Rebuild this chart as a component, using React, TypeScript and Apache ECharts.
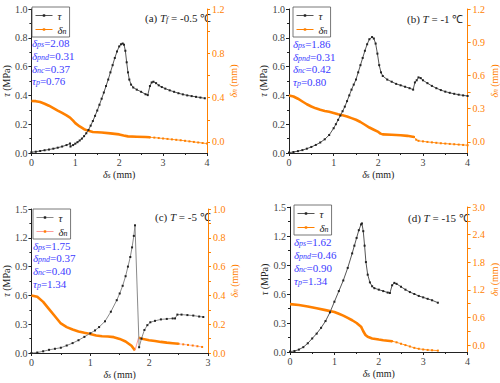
import React, { useEffect, useRef } from 'react';
import * as echarts from 'echarts';

const SERIF = 'serif';
const ORANGE = '#ff8000';
const BLUE = '#3c3cff';
const DARK = '#222222';

// ---------- Panel (a) Tf = -0.5 ℃ ----------
const aTau = [[0,0.005],[0.1,0.009],[0.2,0.014],[0.3,0.019],[0.4,0.024],[0.5,0.03],[0.6,0.037],[0.7,0.045],[0.8,0.055],[0.88,0.066],[0.89,0.045],[0.95,0.055],[1.0,0.065],[1.05,0.075],[1.1,0.087],[1.15,0.1],[1.2,0.117],[1.25,0.137],[1.3,0.16],[1.35,0.19],[1.4,0.222],[1.45,0.258],[1.5,0.295],[1.55,0.335],[1.6,0.377],[1.65,0.42],[1.7,0.465],[1.75,0.51],[1.8,0.56],[1.85,0.61],[1.9,0.66],[1.95,0.705],[2.0,0.74],[2.04,0.755],[2.08,0.76],[2.11,0.752],[2.14,0.71],[2.17,0.63],[2.2,0.56],[2.23,0.51],[2.27,0.475],[2.32,0.455],[2.4,0.44],[2.5,0.425],[2.6,0.408],[2.65,0.402],[2.7,0.465],[2.74,0.49],[2.78,0.495],[2.84,0.485],[2.9,0.47],[2.97,0.458],[3.05,0.447],[3.15,0.435],[3.25,0.425],[3.35,0.415],[3.45,0.407],[3.55,0.4],[3.65,0.395],[3.75,0.39],[3.85,0.385],[3.95,0.38]];
const aDn = [[0,0.37],[0.1,0.368],[0.2,0.36],[0.3,0.345],[0.4,0.327],[0.5,0.305],[0.6,0.283],[0.7,0.262],[0.8,0.24],[0.88,0.22],[0.95,0.192],[1.0,0.17],[1.1,0.14],[1.2,0.115],[1.3,0.1],[1.4,0.09],[1.6,0.085],[1.8,0.077],[2.0,0.068],[2.1,0.058],[2.2,0.05],[2.4,0.047],[2.6,0.044],[2.7,0.042]];
const aDnTail = [[2.7,0.042],[2.8,0.039],[2.9,0.035],[3.0,0.031],[3.1,0.027],[3.2,0.023],[3.3,0.019],[3.4,0.015],[3.5,0.01],[3.6,0.005],[3.7,0.0],[3.8,-0.005],[3.9,-0.01],[4.0,-0.015]];
const aParams = ['2.08', '0.31', '0.37', '0.76'];

// ---------- Panel (b) T = -1 ℃ ----------
const bTau = [[0,0.003],[0.1,0.007],[0.2,0.013],[0.3,0.02],[0.4,0.03],[0.5,0.042],[0.6,0.056],[0.7,0.073],[0.8,0.095],[0.9,0.125],[1.0,0.172],[1.05,0.2],[1.1,0.23],[1.15,0.26],[1.2,0.29],[1.25,0.322],[1.3,0.36],[1.35,0.4],[1.4,0.44],[1.45,0.475],[1.5,0.51],[1.55,0.56],[1.6,0.61],[1.65,0.66],[1.7,0.71],[1.75,0.755],[1.8,0.79],[1.86,0.805],[1.9,0.795],[1.94,0.76],[1.98,0.69],[2.02,0.61],[2.06,0.56],[2.1,0.535],[2.2,0.51],[2.3,0.495],[2.4,0.48],[2.5,0.47],[2.6,0.46],[2.7,0.45],[2.78,0.44],[2.82,0.49],[2.86,0.505],[2.9,0.525],[2.95,0.52],[3.0,0.505],[3.1,0.485],[3.2,0.466],[3.3,0.45],[3.4,0.437],[3.5,0.426],[3.6,0.418],[3.7,0.411],[3.8,0.405],[3.9,0.4],[4.0,0.396]];
const bDn = [[0,0.42],[0.1,0.41],[0.2,0.39],[0.3,0.365],[0.4,0.34],[0.5,0.32],[0.6,0.303],[0.7,0.29],[0.8,0.28],[0.9,0.272],[1.0,0.262],[1.1,0.25],[1.2,0.24],[1.3,0.23],[1.4,0.215],[1.5,0.2],[1.6,0.18],[1.7,0.155],[1.8,0.13],[1.9,0.11],[2.0,0.09],[2.05,0.075],[2.1,0.068],[2.3,0.065],[2.5,0.06],[2.65,0.055],[2.8,0.045]];
const bDnTail = [[2.8,0.045],[2.85,0.02],[2.9,0.01],[3.0,0.005],[3.1,0.0],[3.2,-0.004],[3.3,-0.008],[3.4,-0.012],[3.5,-0.015],[3.6,-0.018],[3.7,-0.021],[3.8,-0.024],[3.9,-0.027],[4.0,-0.03]];
const bParams = ['1.86', '0.31', '0.42', '0.80'];

// ---------- Panel (c) T = -5 ℃ ----------
const cTau = [[0,0],[0.1,0.005],[0.2,0.018],[0.3,0.033],[0.4,0.044],[0.5,0.055],[0.6,0.078],[0.7,0.103],[0.8,0.133],[0.9,0.168],[1.0,0.205],[1.08,0.235],[1.15,0.27],[1.25,0.33],[1.35,0.43],[1.45,0.55],[1.5,0.62],[1.55,0.7],[1.6,0.8],[1.64,0.9],[1.68,1.0],[1.71,1.1],[1.74,1.22],[1.76,1.33],[1.83,0.06],[1.87,0.15],[1.92,0.24],[1.97,0.29],[2.02,0.32],[2.1,0.335],[2.2,0.35],[2.3,0.355],[2.4,0.36],[2.44,0.36],[2.48,0.4],[2.55,0.4],[2.65,0.395],[2.75,0.39],[2.85,0.38],[2.92,0.375]];
const cDn1 = [[0,0.4],[0.1,0.39],[0.2,0.355],[0.3,0.305],[0.4,0.255],[0.5,0.205],[0.6,0.18],[0.7,0.163],[0.8,0.15],[0.9,0.14],[1.0,0.132],[1.1,0.122],[1.2,0.116],[1.3,0.115],[1.4,0.11],[1.5,0.098],[1.6,0.08],[1.7,0.05],[1.76,0.018]];
const cDn2 = [[1.82,0.106],[1.9,0.097],[2.0,0.089],[2.1,0.083],[2.2,0.077],[2.3,0.072],[2.4,0.068],[2.5,0.064]];
const cDnTail = [[2.5,0.064],[2.58,0.06],[2.66,0.056],[2.74,0.052],[2.82,0.047],[2.9,0.042]];
const cParams = ['1.75', '0.37', '0.40', '1.34'];

// ---------- Panel (d) T = -15 ℃ ----------
const dTau = [[0,0.005],[0.1,0.01],[0.2,0.025],[0.3,0.05],[0.4,0.09],[0.5,0.14],[0.6,0.19],[0.7,0.25],[0.8,0.32],[0.9,0.41],[1.0,0.52],[1.1,0.63],[1.2,0.74],[1.3,0.87],[1.4,1.02],[1.45,1.1],[1.5,1.18],[1.55,1.26],[1.6,1.32],[1.62,1.33],[1.65,1.25],[1.68,1.1],[1.71,0.93],[1.75,0.8],[1.8,0.72],[1.85,0.68],[1.9,0.66],[2.0,0.645],[2.1,0.63],[2.2,0.615],[2.25,0.61],[2.3,0.69],[2.35,0.715],[2.4,0.705],[2.5,0.675],[2.6,0.645],[2.7,0.62],[2.8,0.6],[2.9,0.58],[3.0,0.565],[3.1,0.55],[3.2,0.535],[3.33,0.51]];
const dDn = [[0,0.89],[0.2,0.87],[0.4,0.84],[0.6,0.8],[0.8,0.76],[1.0,0.72],[1.1,0.68],[1.2,0.64],[1.3,0.59],[1.4,0.54],[1.5,0.48],[1.6,0.4],[1.65,0.3],[1.7,0.22],[1.75,0.18],[1.85,0.145],[2.0,0.12],[2.1,0.105],[2.2,0.095],[2.3,0.085]];
const dDnTail = [[2.3,0.085],[2.4,0.06],[2.5,0.03],[2.6,0.0],[2.7,-0.03],[2.8,-0.06],[2.9,-0.08],[3.0,-0.095],[3.1,-0.105],[3.2,-0.112],[3.33,-0.12]];
const dParams = ['1.62', '0.46', '0.90', '1.34'];

// ---------- Axes ----------
const xMax = [4, 4, 3, 4];
const leftMax = [1.0, 1.0, 1.5, 1.5];
const leftInterval = [0.2, 0.2, 0.3, 0.3];
const rightMin = [-0.1, -0.1, 0, -0.15];
const rightMax = [1.2, 1.2, 1.0, 3.0];
const rightLabels = [
  [0, 0.4, 0.8, 1.2],
  [0, 0.3, 0.6, 0.9, 1.2],
  [0, 0.2, 0.4, 0.6, 0.8, 1.0],
  [0, 0.6, 1.2, 1.8, 2.4, 3.0],
];
const rightTicks = [
  [0, 0.2, 0.4, 0.6, 0.8, 1.0, 1.2],
  [0, 0.15, 0.3, 0.45, 0.6, 0.75, 0.9, 1.05, 1.2],
  [0, 0.1, 0.2, 0.3, 0.4, 0.5, 0.6, 0.7, 0.8, 0.9, 1.0],
  [0, 0.3, 0.6, 0.9, 1.2, 1.5, 1.8, 2.1, 2.4, 2.7, 3.0],
];

const panelLetters = ['(a)', '(b)', '(c)', '(d)'];
const panelTemps = ['-0.5', '-1', '-5', '-15'];
const paramSubs = ['ps', 'pnd', 'nc', 'p'];

export default function App() {
  const ref = useRef<HTMLDivElement>(null);
  useEffect(() => {
    if (!ref.current) return;
    const chart = echarts.init(ref.current, null, { renderer: 'svg' });

    const grids = [
      { left: 27, top: 9, width: 180, height: 144 },
      { left: 289, top: 9, width: 179, height: 144 },
      { left: 28, top: 209, width: 180, height: 144 },
      { left: 290, top: 207, width: 178, height: 145 },
    ];
    const legendPos = [[32, 7], [293, 7], [33, 209], [294, 205]];
    const titlePos = [[145, 18], [407, 19], [155, 217], [408, 218]];
    const paramPos = [
      [32, [43, 56, 69, 81]],
      [293, [44, 57, 69, 82]],
      [33, [246, 258, 271, 284]],
      [294, [242, 255, 268, 281]],
    ] as [number, number[]][];
    const taus = [aTau, bTau, cTau, dTau];
    const params = [aParams, bParams, cParams, dParams];

    const tauLine = ['#555', '#555', '#8a8a8a', '#555'];
    const dnLine = [ORANGE, ORANGE, '#ff9a9a', ORANGE];

    const xAxis: any[] = [];
    const yAxis: any[] = [];
    const series: any[] = [];
    const legends: any[] = [];
    const graphics: any[] = [];

    const subRich = (color: string, size: number) => ({
      i: { fontStyle: 'italic', fontFamily: SERIF, fontSize: size, color, fill: color },
      s: { fontStyle: 'italic', fontFamily: SERIF, fontSize: size * 0.72, color, fill: color, verticalAlign: 'bottom', lineHeight: 5 },
      t: { fontFamily: SERIF, fontSize: size, color, fill: color },
    });

    for (let p = 0; p < 4; p++) {
      xAxis.push({
        type: 'value', gridIndex: p, min: 0, max: xMax[p], interval: 1,
        axisLine: { show: true, lineStyle: { color: DARK, width: 1 } },
        axisTick: { show: true, length: 3, lineStyle: { color: DARK } },
        minorTick: { show: true, splitNumber: 2, length: 2, lineStyle: { color: DARK } },
        splitLine: { show: false },
        axisLabel: { fontFamily: SERIF, fontSize: 10, color: '#444', margin: 4 },
        name: '{i|δ}{s|s}{t| (mm)}', nameLocation: 'middle', nameGap: 16,
        nameTextStyle: { fontFamily: SERIF, fontSize: 10, color: DARK, rich: subRich(DARK, 10) },
      });
      yAxis.push({
        type: 'value', gridIndex: p, min: 0, max: leftMax[p], interval: leftInterval[p],
        axisLine: { show: true, lineStyle: { color: DARK, width: 1 } },
        axisTick: { show: true, length: 3, lineStyle: { color: DARK } },
        minorTick: { show: true, splitNumber: 2, length: 2, lineStyle: { color: DARK } },
        splitLine: { show: false },
        axisLabel: { fontFamily: SERIF, fontSize: 10, color: '#444', margin: 4, formatter: (v: number) => v.toFixed(1) },
        name: '{i|τ}{t| (MPa)}', nameLocation: 'middle', nameRotate: 90, nameGap: 14,
        nameTextStyle: { fontFamily: SERIF, fontSize: 10, color: DARK, rich: subRich(DARK, 10) },
      });
      yAxis.push({
        type: 'value', gridIndex: p, position: 'right', min: rightMin[p], max: rightMax[p],
        axisLine: { show: true, onZero: false, lineStyle: { color: ORANGE, width: 1 } },
        axisTick: { show: true, length: 3, lineStyle: { color: ORANGE }, customValues: rightTicks[p] },
        splitLine: { show: false },
        axisLabel: { fontFamily: SERIF, fontSize: 10, color: ORANGE, margin: 5, customValues: rightLabels[p], formatter: (v: number) => v.toFixed(1) },
        name: '{i|δ}{s|n}{t| (mm)}', nameLocation: 'middle', nameRotate: 90, nameGap: 20,
        nameTextStyle: { fontFamily: SERIF, fontSize: 10, color: ORANGE, rich: subRich(ORANGE, 10) },
      });

      series.push({
        type: 'line', name: 'τ', xAxisIndex: p, yAxisIndex: 2 * p, data: taus[p],
        symbol: 'rect', symbolSize: 2, showSymbol: true,
        lineStyle: { width: 1, color: tauLine[p] }, itemStyle: { color: DARK }, z: 3,
      });

      const dense = p === 0 ? [aDn] : p === 1 ? [bDn] : p === 2 ? [cDn1, cDn2] : [dDn];
      const tail = [aDnTail, bDnTail, cDnTail, dDnTail][p];
      dense.forEach((d) => {
        series.push({
          type: 'line', name: 'δn', xAxisIndex: p, yAxisIndex: 2 * p + 1, data: d,
          symbol: 'rect', symbolSize: 2, showSymbol: false,
          lineStyle: { width: 2.6, color: ORANGE }, itemStyle: { color: ORANGE }, z: 2,
        });
      });
      if (p === 2) {
        series.push({
          type: 'line', name: 'δn', xAxisIndex: p, yAxisIndex: 2 * p + 1,
          data: [cDn1[cDn1.length - 1], cDn2[0]], showSymbol: false, symbol: 'rect',
          lineStyle: { width: 1, color: dnLine[p] }, z: 2,
        });
      }
      series.push({
        type: 'line', name: 'δn', xAxisIndex: p, yAxisIndex: 2 * p + 1, data: tail,
        symbol: 'rect', symbolSize: 2, showSymbol: true,
        lineStyle: { width: 0.8, color: dnLine[p] }, itemStyle: { color: ORANGE }, z: 2,
      });

      legends.push({
        left: legendPos[p][0], top: legendPos[p][1], orient: 'vertical',
        selectedMode: false, itemWidth: 17, itemHeight: 3, itemGap: 3,
        padding: [3, 3, 2, 3], borderColor: '#555', borderWidth: 0.8,
        data: [
          { name: 'τ', lineStyle: { width: 1, color: tauLine[p] }, itemStyle: { color: DARK } },
          { name: 'δn', lineStyle: { width: 1, color: dnLine[p] }, itemStyle: { color: ORANGE } },
        ],
        formatter: (name: string) => (name === 'τ' ? '{i|τ}' : '{i|δ}{s|n}'),
        textStyle: { fontFamily: SERIF, fontSize: 11, color: DARK, rich: subRich(DARK, 11) },
      });

      const title = p === 0
        ? `{t|${panelLetters[p]} }{i|T}{s|f}{t| = ${panelTemps[p]} ℃}`
        : `{t|${panelLetters[p]} }{i|T}{t| = ${panelTemps[p]} ℃}`;
      graphics.push({
        type: 'text', x: titlePos[p][0], y: titlePos[p][1], silent: true,
        style: { text: title, fill: DARK, fontFamily: SERIF, fontSize: 11, verticalAlign: 'middle', rich: subRich(DARK, 11) },
      });

      const [px, ys] = paramPos[p];
      params[p].forEach((v, k) => {
        const sym = k === 3 ? 'τ' : 'δ';
        graphics.push({
          type: 'text', x: px, y: ys[k], silent: true,
          style: {
            text: `{i|${sym}}{s|${paramSubs[k]}}{t|=${v}}`, fill: BLUE, fontFamily: SERIF, fontSize: 11,
            verticalAlign: 'middle', rich: subRich(BLUE, 11),
          },
        });
      });
    }

    chart.setOption({
      animation: false,
      backgroundColor: '#ffffff',
      grid: grids.map((g) => ({ ...g, containLabel: false })),
      xAxis, yAxis, series, legend: legends,
      graphic: graphics,
    });
    return () => chart.dispose();
  }, []);

  return (
    <div
      ref={ref}
      style={{ position: 'fixed', left: 0, top: 0, width: 500, height: 383, background: '#fff' }}
    />
  );
}
